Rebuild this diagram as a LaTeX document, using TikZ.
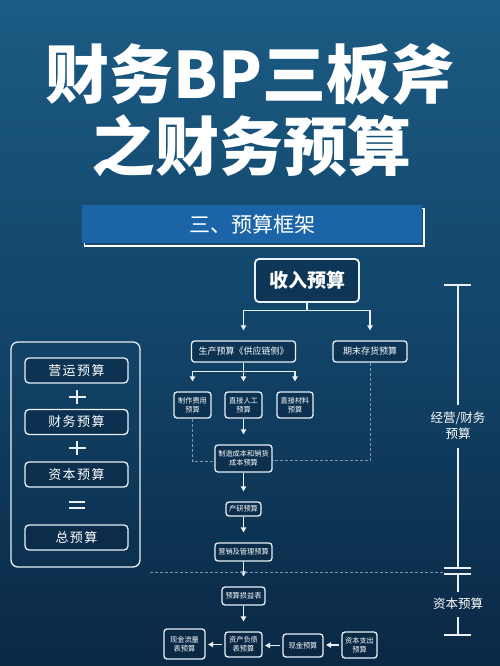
\documentclass[tikz,border=0pt]{standalone}
\usepackage{fontspec}
\setmainfont{Noto Sans CJK SC}
\usetikzlibrary{arrows.meta,calc}
\definecolor{bgtop}{RGB}{27,91,131}
\definecolor{bgmid}{RGB}{18,68,105}
\definecolor{bgbot}{RGB}{10,40,68}
\definecolor{bannerblue}{RGB}{27,100,168}
\definecolor{linecol}{RGB}{232,241,247}
\definecolor{dashcol}{RGB}{125,150,175}
\definecolor{boxfill}{RGB}{10,40,68}
\begin{document}
\begin{tikzpicture}[x=1pt,y=-1pt,
  bx/.style={draw=linecol, line width=1.3pt, rounded corners=3pt, fill=boxfill, fill opacity=.55, text opacity=1, text=white, align=center, inner sep=0pt, font=\fontsize{7.2}{8.8}\selectfont},
  midbx/.style={bx, font=\fontsize{9}{10}\selectfont},
  leftbx/.style={bx, minimum width=103pt, minimum height=25pt, rounded corners=4pt, font=\fontsize{13}{14}\selectfont},
  conn/.style={linecol, line width=1.1pt},
  arr/.style={conn, -{Triangle[length=5pt,width=5.5pt]}},
  varr/.style={arr, shorten >=10pt},
  harr/.style={arr, shorten >=2.5pt, shorten <=2.5pt},
  dconn/.style={dashcol, line width=0.7pt, dash pattern=on 3pt off 2pt},
  titlef/.style={inner sep=0pt, font=\fontsize{64}{64}\selectfont\bfseries},
  sidetxt/.style={text=white, align=center, inner sep=0pt, font=\fontsize{12.5}{16}\selectfont}
]
\useasboundingbox (0,0) rectangle (500,666);
\shade[top color=bgtop, bottom color=bgbot, middle color=bgmid] (0,0) rectangle (500,666);

% title
\node (t1) [titlef, text=white] at (250,74) {财务BP三板斧};
\node (t2) [titlef, text=white] at (251,146) {之财务预算};

% banner
\draw[white, line width=1.8pt] (84.5,208.5) rectangle (424,246);
\node (ban) [fill=bannerblue, minimum width=340pt, minimum height=38pt, inner sep=0pt, text=white, font=\fontsize{21}{21}\selectfont] at (252,224) {三、预算框架};

% main flow
\node (inc) [bx, line width=1.8pt, rounded corners=4pt, minimum width=104pt, minimum height=43pt, font=\fontsize{19}{19}\selectfont\bfseries] at (307,280.5) {收入预算};
\node (prod) [midbx, minimum width=104pt, minimum height=21pt] at (243.5,351.5) {生产预算《供应链侧》};
\node (endinv) [midbx, minimum width=74pt, minimum height=21pt] at (370,351.5) {期末存货预算};
\node (mfg) [bx, minimum width=37pt, minimum height=26pt] at (192.5,405) {制作费用\\预算};
\node (labor) [bx, minimum width=37pt, minimum height=26pt] at (243.5,405) {直接人工\\预算};
\node (mat) [bx, minimum width=36pt, minimum height=26pt] at (295,405) {直接材料\\预算};
\node (cogs) [bx, minimum width=57pt, minimum height=27pt] at (243.5,458.5) {制造成本和销货\\成本预算};
\node (rd) [bx, minimum width=35pt, minimum height=14pt] at (243.5,509) {产研预算};
\node (sga) [bx, minimum width=57pt, minimum height=18pt] at (243.5,552) {营销及管理预算};
\node (pl) [bx, minimum width=43pt, minimum height=18pt] at (243.5,596) {预算损益表};
\node (cf) [bx, minimum width=41pt, minimum height=30pt] at (184.5,644) {现金流量\\表预算};
\node (bs) [bx, minimum width=37pt, minimum height=25pt] at (243.5,644.5) {资产负债\\表预算};
\node (cash) [bx, minimum width=40pt, minimum height=23pt] at (303,645.5) {现金预算};
\node (capex) [bx, minimum width=35pt, minimum height=26pt] at (359.5,645) {资本支出\\预算};

% connectors
\draw[conn] (inc.south) -- ++(0,7.5) coordinate (j1);
\draw[varr] (j1) -| (prod.north);
\draw[varr] (j1) -| (endinv.north);
\draw[conn] (prod.south) -- ++(0,8.5) coordinate (j2);
\draw[varr] (j2) -| (mfg.north);
\draw[varr] (j2) -- (labor.north);
\draw[varr] (j2) -| (mat.north);
\draw[varr] (labor.south) -- (cogs.north);
\draw[varr] (cogs.south) -- (rd.north);
\draw[varr] (rd.south) -- (sga.north);
\draw[varr] (sga.south) -- (pl.north);
\draw[varr] (pl.south) -- (bs.north);
\draw[harr] (capex.west) -- (capex.west -| cash.east);
\draw[harr] (cash.west) -- (cash.west -| bs.east);
\draw[harr] (bs.west) -- (bs.west -| cf.east);

\draw[dconn] (mfg.south) |- ([yshift=-3pt]cogs.west);
\draw[dconn] (endinv.south) |- ([yshift=-2pt]cogs.east);
\coordinate (dl) at (150,572);
\coordinate (dr) at (443,572);
\draw[dconn] (dl) -- (dr);

% left summary box
\draw[linecol, line width=1.3pt, rounded corners=7pt] (11,342) rectangle (140,567);
\node (op) [leftbx] at (76.5,370.5) {营\kern1.5pt运\kern1.5pt预\kern1.5pt算};
\node (fin) [leftbx] at (76.5,422) {财\kern1.5pt务\kern1.5pt预\kern1.5pt算};
\node (cap) [leftbx] at (76.5,474.5) {资\kern1.5pt本\kern1.5pt预\kern1.5pt算};
\node (tot) [leftbx] at (76.5,537.5) {总\kern1.5pt预\kern1.5pt算};
\draw[linecol, line width=1.5pt] (68.5,397) -- (85.5,397) (77,390) -- (77,404);
\draw[linecol, line width=1.5pt] (68.5,448) -- (85.5,448) (77,441) -- (77,455);
\draw[linecol, line width=1.5pt] (69,502) -- (85,502) (69,508) -- (85,508);

% right bracket
\draw[linecol, line width=1.3pt]
  (444,285) -- (471,285) (458,285) -- (458,405)
  (458,448) -- (458,568) (444,568) -- (471,568)
  (444,574) -- (471,574) (458,574) -- (458,592)
  (458,617) -- (458,635) (444,635) -- (471,635);
\node (optxt) [sidetxt] at (458,425.5) {经营/财务\\预算};
\node (captxt) [sidetxt] at (458,603.5) {资本预算};
\end{tikzpicture}
\end{document}
